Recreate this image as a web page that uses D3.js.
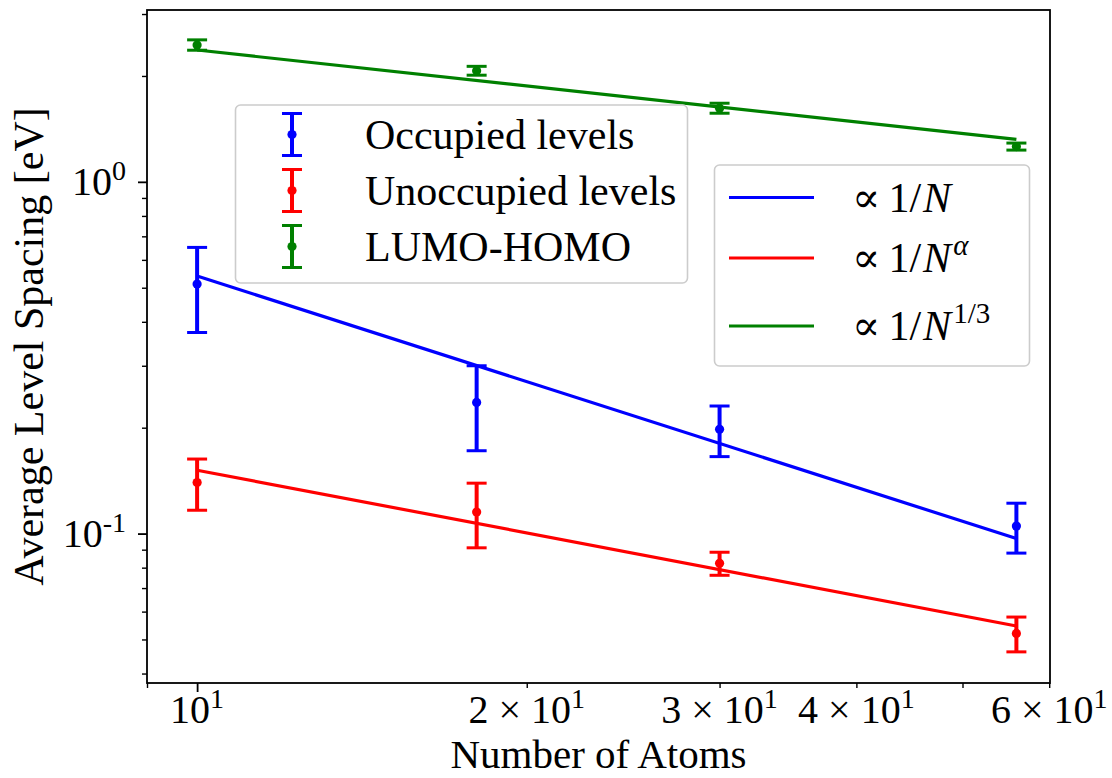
<!DOCTYPE html>
<html>
<head>
<meta charset="utf-8">
<script src="https://cdn.jsdelivr.net/npm/d3@7"></script>
<style>
  body { margin: 0; background: #fff; }
  text { font-family: "Liberation Serif", "DejaVu Serif", serif; fill: #000; }
</style>
</head>
<body>
<svg id="chart"></svg>
<script>
// Data
const atoms = [10, 18, 30, 56];
const occupied = [0.512, 0.236, 0.198, 0.105];
const occupiedErr = [0.139, 0.064, 0.0325, 0.017];
const unoccupied = [0.1397, 0.1151, 0.0823, 0.052];
const unoccupiedErr = [0.0232, 0.024, 0.0062, 0.0059];
const gap = [2.45, 2.07, 1.62, 1.26];
const gapErr = [0.083, 0.06, 0.053, 0.029];

// fitted power laws, evaluated at the ends of the atom range
const fitAtoms = [10, 56];
const fitOccupied = [0.540, 0.0968];
const fitUnoccupied = [0.1514, 0.0546];
const fitGap = [2.37, 1.32];

// ticks
const xMajorTicks = [10];
const xMinorTicks = [9, 20, 30, 40, 50, 60];
const xTickLabels = [[10, "", "1"], [20, "2", "1"], [30, "3", "1"], [40, "4", "1"], [60, "6", "1"]];
const yMajorTicks = [0.1, 1];
const yMinorTicks = [0.04, 0.05, 0.06, 0.07, 0.08, 0.09, 0.2, 0.3, 0.4, 0.5, 0.6, 0.7, 0.8, 0.9, 2, 3];
const yTickLabels = [[1, "0"], [0.1, "-1"]];

const W = 1112, H = 778;
const margin = { top: 10, right: 62, bottom: 95, left: 147 };
const width = W - margin.left - margin.right;
const height = H - margin.top - margin.bottom;

const svg = d3.select("#chart").attr("width", W).attr("height", H);
const g = svg.append("g").attr("transform", `translate(${margin.left},${margin.top})`);

const x = d3.scaleLog().domain([9.0, 60.1]).range([0, width]);
const y = d3.scaleLog().domain([0.0376, 3.08]).range([height, 0]);

// axes
g.append("g")
  .attr("transform", `translate(0,${height})`)
  .call(d3.axisBottom(x).tickValues(xMajorTicks).tickSize(9).tickFormat(""))
  .call(a => a.select(".domain").remove())
  .selectAll("line").attr("stroke-width", 1.8);
g.append("g")
  .attr("transform", `translate(0,${height})`)
  .call(d3.axisBottom(x).tickValues(xMinorTicks).tickSize(5).tickFormat(""))
  .call(a => a.select(".domain").remove())
  .selectAll("line").attr("stroke-width", 1.4);
g.append("g")
  .call(d3.axisLeft(y).tickValues(yMajorTicks).tickSize(9).tickFormat(""))
  .call(a => a.select(".domain").remove())
  .selectAll("line").attr("stroke-width", 1.8);
g.append("g")
  .call(d3.axisLeft(y).tickValues(yMinorTicks).tickSize(5).tickFormat(""))
  .call(a => a.select(".domain").remove())
  .selectAll("line").attr("stroke-width", 1.4);

// tick labels
xTickLabels.forEach(([v, m, e]) => {
  const t = g.append("text")
    .attr("x", x(v)).attr("y", height + 39.5)
    .attr("text-anchor", "middle")
    .style("font-size", "40px");
  if (m) t.append("tspan").text(m + " \u00d7 ");
  t.append("tspan").text("10");
  t.append("tspan").attr("dy", -15).style("font-size", "28px").text(e);
});
yTickLabels.forEach(([v, e]) => {
  const t = g.append("text")
    .attr("x", -21).attr("y", y(v) + 13)
    .attr("text-anchor", "end")
    .style("font-size", "40px");
  t.append("tspan").text("10");
  t.append("tspan").attr("dy", -15).style("font-size", "28px").text(e);
});

// axis titles
g.append("text")
  .attr("x", width / 2).attr("y", H - margin.top - 10)
  .attr("text-anchor", "middle")
  .style("font-size", "41px")
  .text("Number of Atoms");
g.append("text")
  .attr("transform", `translate(${43 - margin.left},${height / 2}) rotate(-90)`)
  .attr("text-anchor", "middle")
  .style("font-size", "42px")
  .text("Average Level Spacing [eV]");

// data
const series = [
  { vals: occupied, err: occupiedErr, fit: fitOccupied, color: "#0000ff" },
  { vals: unoccupied, err: unoccupiedErr, fit: fitUnoccupied, color: "#ff0000" },
  { vals: gap, err: gapErr, fit: fitGap, color: "#008000" }
];

const line = d3.line().x(d => x(d[0])).y(d => y(d[1]));

function errorbar(sel, cx, lo, hi, cy, color) {
  sel.append("line").attr("x1", cx).attr("x2", cx).attr("y1", lo).attr("y2", hi)
    .attr("stroke", color).attr("stroke-width", 4);
  [lo, hi].forEach(yy => sel.append("line")
    .attr("x1", cx - 10).attr("x2", cx + 10).attr("y1", yy).attr("y2", yy)
    .attr("stroke", color).attr("stroke-width", 3));
  sel.append("circle").attr("cx", cx).attr("cy", cy).attr("r", 4.6).attr("fill", color);
}

series.forEach(s => {
  const eg = g.append("g");
  atoms.forEach((n, i) => {
    errorbar(eg, x(n), y(s.vals[i] - s.err[i]), y(s.vals[i] + s.err[i]), y(s.vals[i]), s.color);
  });
});
series.forEach(s => {
  g.append("path")
    .datum(fitAtoms.map((n, i) => [n, s.fit[i]]))
    .attr("d", line)
    .attr("fill", "none")
    .attr("stroke", s.color)
    .attr("stroke-width", 3.2);
});

// frame
g.append("rect")
  .attr("width", width).attr("height", height)
  .attr("fill", "none").attr("stroke", "#000").attr("stroke-width", 1.8);

// legend: error bars
const leg1 = svg.append("g");
leg1.append("rect")
  .attr("x", 235.5).attr("y", 105).attr("width", 452).attr("height", 178).attr("rx", 5)
  .attr("fill", "#fff").attr("fill-opacity", 0.8)
  .attr("stroke", "#cccccc").attr("stroke-width", 1.6);
const leg1Labels = ["Occupied levels", "Unoccupied levels", "LUMO-HOMO"];
leg1Labels.forEach((lab, i) => {
  const cy = 134.5 + i * 56;
  errorbar(leg1, 292, cy + 21, cy - 21, cy, series[i].color);
  leg1.append("text").attr("x", 365).attr("y", cy + 14)
    .style("font-size", "42px").text(lab);
});

// legend: fits
const leg2 = svg.append("g");
leg2.append("rect")
  .attr("x", 714.5).attr("y", 165).attr("width", 315).attr("height", 201).attr("rx", 5)
  .attr("fill", "#fff").attr("fill-opacity", 0.8)
  .attr("stroke", "#cccccc").attr("stroke-width", 1.6);
const leg2Rows = [197.5, 258, 326];
const leg2Exp = [null, "\u03b1", "1/3"];
leg2Rows.forEach((cy, i) => {
  leg2.append("line").attr("x1", 729).attr("x2", 814).attr("y1", cy).attr("y2", cy)
    .attr("stroke", series[i].color).attr("stroke-width", 3.2);
  const t = leg2.append("text").attr("x", 852).attr("y", cy + 14).style("font-size", "42px");
  t.append("tspan").text("\u221d");
  t.append("tspan").attr("dx", 8).text("1/");
  t.append("tspan").attr("dx", 2).style("font-style", "italic").text("N");
  if (leg2Exp[i]) {
    t.append("tspan").attr("dy", -17).attr("dx", 2).style("font-size", "29px")
      .style("font-style", i === 1 ? "italic" : "normal").text(leg2Exp[i]);
  }
});
</script>
</body>
</html>
